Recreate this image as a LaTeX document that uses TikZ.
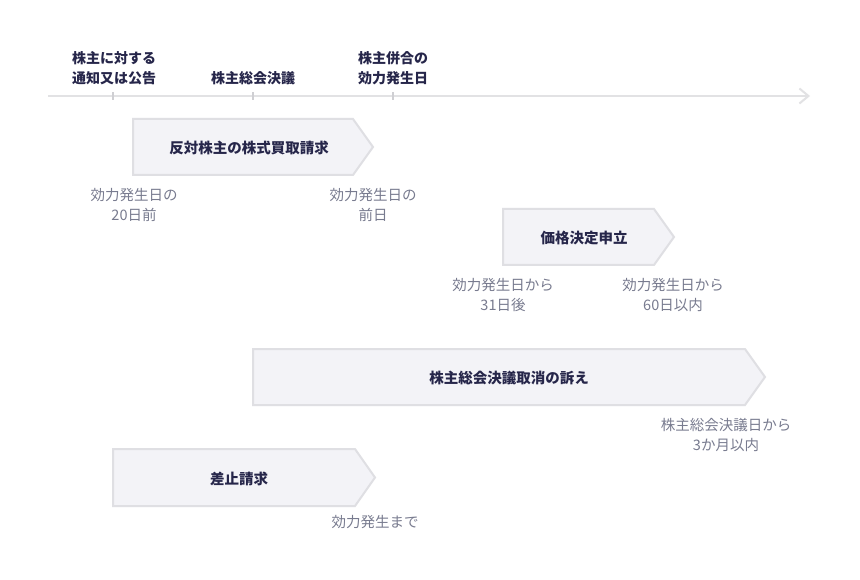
\documentclass[tikz,border=0pt]{standalone}
\usepackage{fontspec}
\setmainfont{Noto Sans CJK JP}
\usetikzlibrary{arrows.meta}
\definecolor{navy}{HTML}{26264A}
\definecolor{subgray}{HTML}{787B8F}
\definecolor{chevfill}{HTML}{F3F3F7}
\definecolor{chevline}{HTML}{DFDFE3}
\definecolor{tlgray}{HTML}{E2E2E4}
\definecolor{tickgray}{HTML}{CFCFD3}
\tikzset{
  chev/.style={fill=chevfill,draw=chevline,line width=2pt,line join=miter},
  title/.style={font=\fontsize{14.5}{18}\selectfont\bfseries,text=navy,inner sep=0pt},
  toplabel/.style={font=\fontsize{14}{20}\selectfont\bfseries,text=navy,align=center,inner sep=0pt},
  sublabel/.style={font=\fontsize{14.5}{20}\selectfont,text=subgray,align=center,inner sep=0pt},
  tl/.style={draw=tlgray,line width=2.5pt,-{Straight Barb[length=9pt,width=15pt,line width=2pt]}},
  tick/.style={draw=tickgray,line width=2pt}
}
\begin{document}
\begin{tikzpicture}[x=1pt,y=-1pt]
\useasboundingbox[fill=white] (0,0) rectangle (860,580);
% timeline
\coordinate (tls) at (48,96);
\coordinate (tle) at (810,96);
\draw[tl] (tls) -- (tle);
\foreach \x/\n in {113/a,253/b,393/c}{
  \coordinate (tk\n) at (\x,96);
  \draw[tick] ([yshift=-4pt]tk\n) -- ([yshift=4pt]tk\n);
}
\node[toplabel] (l1) at (114,68) {株主に対する\\通知又は公告};
\node[toplabel] (l2) at (253,78) {株主総会決議};
\node[toplabel] (l3) at (393,68) {株主併合の\\効力発生日};
% chevron 1
\draw[chev] (133,119) -- (353,119) -- (373,147) -- (353,175) -- (133,175) -- cycle;
\node[title] (t1) at (249,148) {反対株主の株式買取請求};
\node[sublabel] (s1a) at (134,205) {効力発生日の\\20日前};
\node[sublabel] (s1b) at (373,205) {効力発生日の\\前日};
% chevron 2
\draw[chev] (503,209) -- (654,209) -- (674,237) -- (654,265) -- (503,265) -- cycle;
\node[title] (t2) at (584,238) {価格決定申立};
\node[sublabel] (s2a) at (503,295) {効力発生日から\\31日後};
\node[sublabel] (s2b) at (673,295) {効力発生日から\\60日以内};
% chevron 3
\draw[chev] (253,349) -- (745,349) -- (765,377) -- (745,405) -- (253,405) -- cycle;
\node[title] (t3) at (509,378) {株主総会決議取消の訴え};
\node[sublabel] (s3) at (726,435) {株主総会決議日から\\3か月以内};
% chevron 4
\draw[chev] (113,449) -- (355,449) -- (375,477.5) -- (355,506) -- (113,506) -- cycle;
\node[title] (t4) at (239,479) {差止請求};
\node[sublabel] (s4) at (375,522) {効力発生まで};
\end{tikzpicture}
\end{document}
